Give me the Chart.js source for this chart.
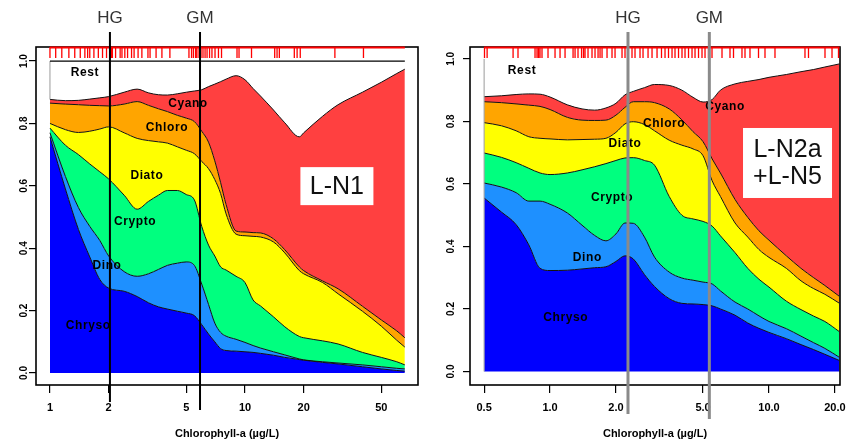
<!DOCTYPE html>
<html>
<head>
<meta charset="utf-8">
<script src="https://cdn.jsdelivr.net/npm/chart.js@4.4.1/dist/chart.umd.min.js"></script>
<style>
  html, body { margin: 0; padding: 0; background: #fff; }
  #wrap { position: relative; width: 849px; height: 444px; }
  #c1 { position: absolute; left: 0; top: 0; }
  #c2 { position: absolute; left: 425px; top: 0; }
</style>
</head>
<body>
<div id="wrap">
  <canvas id="c1" width="425" height="444"></canvas>
  <canvas id="c2" width="424" height="444"></canvas>
</div>
<script>
// ---------- Data: cumulative share (top edge of each group) ----------
const groupNames = ['Chryso', 'Dino', 'Crypto', 'Diato', 'Chloro', 'Cyano'];
const groupColors = ['#0000ff', '#1e90ff', '#00ff7f', '#ffff00', '#ffa500', '#ff4040'];
const labelNames = ['Rest', 'Cyano', 'Chloro', 'Diato', 'Crypto', 'Dino', 'Chryso'];
const markerNames = ['HG', 'GM'];
const yTicks = [0, 0.2, 0.4, 0.6, 0.8, 1.0];

// Panel L-N1
const chlA = [1, 1.2, 1.4, 1.6, 1.8, 2, 2.4, 2.8, 3.2, 3.6, 4, 4.5, 5, 5.5, 6, 6.5, 7, 7.5, 8, 9, 10, 11, 12, 14, 16, 19, 20, 25, 30, 40, 50, 60, 66];
const chrysoA = [0.757, 0.59, 0.46, 0.372, 0.30, 0.272, 0.262, 0.245, 0.225, 0.212, 0.205, 0.198, 0.192, 0.184, 0.155, 0.125, 0.10, 0.078, 0.072, 0.07, 0.068, 0.066, 0.063, 0.057, 0.05, 0.043, 0.041, 0.034, 0.029, 0.02, 0.013, 0.008, 0.006];
const dinoA = [0.77, 0.63, 0.53, 0.47, 0.425, 0.375, 0.325, 0.31, 0.318, 0.332, 0.345, 0.352, 0.356, 0.345, 0.285, 0.22, 0.16, 0.13, 0.118, 0.108, 0.098, 0.088, 0.08, 0.068, 0.058, 0.045, 0.042, 0.036, 0.032, 0.026, 0.02, 0.015, 0.013];
const cryptoA = [0.785, 0.73, 0.70, 0.67, 0.645, 0.622, 0.57, 0.525, 0.55, 0.57, 0.585, 0.585, 0.572, 0.555, 0.47, 0.41, 0.375, 0.34, 0.33, 0.31, 0.29, 0.234, 0.215, 0.18, 0.148, 0.117, 0.113, 0.103, 0.093, 0.066, 0.05, 0.036, 0.026];
const diatoA = [0.80, 0.78, 0.771, 0.775, 0.782, 0.789, 0.77, 0.752, 0.745, 0.741, 0.737, 0.725, 0.714, 0.703, 0.678, 0.655, 0.62, 0.575, 0.51, 0.445, 0.44, 0.438, 0.436, 0.42, 0.385, 0.328, 0.318, 0.29, 0.254, 0.198, 0.15, 0.105, 0.083];
const chloroA = [0.865, 0.862, 0.86, 0.858, 0.857, 0.856, 0.862, 0.87, 0.858, 0.847, 0.838, 0.826, 0.817, 0.806, 0.775, 0.74, 0.68, 0.61, 0.54, 0.455, 0.452, 0.45, 0.449, 0.43, 0.395, 0.34, 0.328, 0.295, 0.27, 0.214, 0.17, 0.135, 0.113];
const cyanoA = [0.877, 0.873, 0.874, 0.878, 0.882, 0.886, 0.90, 0.91, 0.898, 0.892, 0.891, 0.895, 0.90, 0.904, 0.908, 0.918, 0.926, 0.934, 0.942, 0.953, 0.94, 0.912, 0.888, 0.843, 0.802, 0.757, 0.77, 0.823, 0.86, 0.90, 0.932, 0.96, 0.974];
const rugA = [1.00, 1.07, 1.15, 1.25, 1.34, 1.43, 1.51, 1.56, 1.60, 1.68, 1.77, 1.86, 1.95, 2.03, 2.06, 2.09, 2.17, 2.29, 2.34, 2.42, 2.50, 2.62, 2.70, 2.83, 2.96, 3.18, 3.26, 3.50, 3.75, 4.12, 5.16, 5.32, 5.44, 5.58, 5.67, 5.81, 5.95, 6.09, 6.24, 6.39, 6.58, 6.77, 7.02, 7.31, 7.58, 9.10, 9.32, 10.8, 14.2, 14.6, 15.0, 17.9, 18.5, 19.2, 28.9, 40.5];
const markersA = [2.03, 5.88];
const ticksA = [1, 2, 5, 10, 20, 50];
const tickTextA = ['1', '2', '5', '10', '20', '50'];
const labelPosA = [[1.51, 0.962], [5.10, 0.862], [3.98, 0.785], [3.14, 0.631], [2.73, 0.484], [1.96, 0.343], [1.57, 0.151]];

// Panel L-N2a + L-N5
const chlB = [0.5, 0.6, 0.7, 0.8, 0.9, 1.0, 1.2, 1.4, 1.6, 1.8, 2.0, 2.2, 2.4, 2.7, 3, 3.5, 4, 4.5, 5, 5.5, 6, 7, 8, 9, 10, 12, 14, 16, 18, 21];
const chrysoB = [0.555, 0.51, 0.47, 0.405, 0.33, 0.323, 0.324, 0.328, 0.332, 0.335, 0.352, 0.37, 0.36, 0.31, 0.272, 0.233, 0.218, 0.216, 0.214, 0.21, 0.2, 0.18, 0.155, 0.138, 0.125, 0.105, 0.086, 0.07, 0.055, 0.035];
const dinoB = [0.603, 0.59, 0.572, 0.545, 0.545, 0.535, 0.507, 0.468, 0.435, 0.418, 0.44, 0.475, 0.474, 0.43, 0.366, 0.318, 0.299, 0.292, 0.286, 0.28, 0.258, 0.222, 0.2, 0.178, 0.16, 0.137, 0.113, 0.092, 0.074, 0.045];
const cryptoB = [0.699, 0.685, 0.668, 0.65, 0.635, 0.63, 0.635, 0.645, 0.655, 0.665, 0.675, 0.683, 0.684, 0.675, 0.66, 0.56, 0.5, 0.488, 0.48, 0.465, 0.434, 0.38, 0.33, 0.295, 0.27, 0.225, 0.198, 0.177, 0.16, 0.127];
const diatoB = [0.796, 0.786, 0.77, 0.751, 0.746, 0.744, 0.741, 0.742, 0.743, 0.746, 0.765, 0.792, 0.799, 0.79, 0.77, 0.74, 0.724, 0.712, 0.69, 0.61, 0.56, 0.475, 0.43, 0.39, 0.365, 0.33, 0.29, 0.265, 0.247, 0.218];
const chloroB = [0.863, 0.86, 0.856, 0.852, 0.848, 0.838, 0.813, 0.804, 0.803, 0.804, 0.82, 0.845, 0.863, 0.863, 0.86, 0.84, 0.805, 0.767, 0.735, 0.68, 0.635, 0.55, 0.493, 0.45, 0.42, 0.37, 0.33, 0.3, 0.275, 0.24];
const cyanoB = [0.879, 0.882, 0.886, 0.888, 0.887, 0.878, 0.853, 0.84, 0.836, 0.843, 0.858, 0.885, 0.896, 0.908, 0.918, 0.915, 0.90, 0.877, 0.862, 0.87, 0.90, 0.92, 0.928, 0.934, 0.941, 0.95, 0.959, 0.966, 0.974, 0.984];
const rugB = [0.502, 0.516, 0.678, 0.714, 0.854, 0.872, 0.886, 0.900, 0.919, 0.979, 1.054, 1.111, 1.171, 1.274, 1.301, 1.342, 1.393, 1.422, 1.445, 1.491, 1.555, 1.605, 1.657, 1.692, 1.728, 1.821, 1.919, 1.981, 2.132, 2.200, 2.271, 2.368, 2.444, 2.576, 2.659, 2.803, 2.923, 3.081, 3.229, 3.351, 3.476, 3.607, 3.722, 3.862, 4.006, 4.135, 4.290, 4.451, 4.594, 4.766, 4.944, 5.103, 5.293, 5.492, 6.101, 6.636, 6.885, 7.527, 7.770, 8.188, 8.956, 9.588, 10.65, 14.60, 15.15, 18.02, 19.40, 20.77];
const markersB = [2.27, 5.34];
const ticksB = [0.5, 1, 2, 5, 10, 20];
const tickTextB = ['0.5', '1.0', '2.0', '5.0', '10.0', '20.0'];
const labelPosB = [[0.745, 0.961], [6.30, 0.846], [3.32, 0.792], [2.20, 0.728], [1.92, 0.555], [1.48, 0.363], [1.18, 0.171]];

const FONT = '"Liberation Sans", Arial, sans-serif';

// ---------- Panel settings (layout / style) ----------
const panels = [
  {
    canvas: 'c1', chl: chlA, tops: [chrysoA, dinoA, cryptoA, diatoA, chloroA, cyanoA],
    rug: rugA, markers: markersA, ticks: ticksA, tickText: tickTextA, labelPos: labelPosA,
    boxText: ['L-N1'], boxAt: [29.6, 0.599], boxSize: [73, 38],
    xMin: 0.848, xMax: 77.1, yMin: -0.0385, yMax: 1.045,
    yAxisWidth: 36, padRight: 7, yLabelGap: 12,
    markerColor: '#000', markerWidth: 2, markerBottom: [402, 410],
    topLine: true
  },
  {
    canvas: 'c2', chl: chlB, tops: [chrysoB, dinoB, cryptoB, diatoB, chloroB, cyanoB],
    rug: rugB, markers: markersB, ticks: ticksB, tickText: tickTextB, labelPos: labelPosB,
    boxText: ['L-N2a', '+L-N5'], boxAt: [12.15, 0.667], boxSize: [89, 70],
    xMin: 0.431, xMax: 21.1, yMin: -0.0432, yMax: 1.038,
    yAxisWidth: 45, padRight: 9, yLabelGap: 19,
    markerColor: '#8a8a8a', markerWidth: 3, markerBottom: [414, 419],
    topLine: false
  }
];

// Draws the R-style extras: frame, rug, group names, panel tag, HG/GM lines, y labels
function makeDecor(p) {
  return {
    id: 'decor',
    afterDatasetsDraw(chart) {
      const { ctx, chartArea: a, scales: { x, y } } = chart;
      const first = p.chl[0];
      const last = p.chl[p.chl.length - 1];
      const xf = x.getPixelForValue(first);
      const xl = x.getPixelForValue(last);
      const cyano = p.tops[5];
      ctx.save();

      // outline of the "Rest" area
      ctx.lineWidth = 1;
      ctx.strokeStyle = '#9a9a9a';
      ctx.beginPath();
      if (p.topLine) {
        ctx.moveTo(xf, y.getPixelForValue(1));
        ctx.lineTo(xf, y.getPixelForValue(cyano[0]));
      } else {
        ctx.moveTo(xf, y.getPixelForValue(0));
        ctx.lineTo(xf, y.getPixelForValue(1));
        ctx.moveTo(xl, y.getPixelForValue(0));
        ctx.lineTo(xl, y.getPixelForValue(cyano[cyano.length - 1]));
      }
      ctx.stroke();
      if (p.topLine) {
        ctx.strokeStyle = '#000';
        ctx.lineWidth = 1.2;
        ctx.beginPath();
        ctx.moveTo(xf, y.getPixelForValue(1));
        ctx.lineTo(xl, y.getPixelForValue(1));
        ctx.stroke();
      }

      // frame
      ctx.strokeStyle = '#000';
      ctx.lineWidth = 1.6;
      ctx.strokeRect(a.left, a.top, a.width, a.height);

      // rug of samples along the top
      ctx.strokeStyle = '#ff0000';
      ctx.lineWidth = 2;
      ctx.beginPath();
      ctx.moveTo(xf, a.top + 0.5);
      ctx.lineTo(xl, a.top + 0.5);
      ctx.stroke();
      ctx.lineWidth = 1.3;
      ctx.beginPath();
      p.rug.forEach(v => {
        const px = x.getPixelForValue(v);
        ctx.moveTo(px, a.top);
        ctx.lineTo(px, a.top + 11);
      });
      ctx.stroke();

      // group names
      ctx.fillStyle = '#000';
      ctx.textAlign = 'center';
      ctx.textBaseline = 'middle';
      ctx.font = 'bold 12px ' + FONT;
      ctx.letterSpacing = '0.6px';
      labelNames.forEach((name, i) => {
        const [lx, ly] = p.labelPos[i];
        ctx.fillText(name, x.getPixelForValue(lx), y.getPixelForValue(ly));
      });
      ctx.letterSpacing = '0px';

      // panel tag
      const bx = x.getPixelForValue(p.boxAt[0]);
      const by = y.getPixelForValue(p.boxAt[1]);
      const [bw, bh] = p.boxSize;
      ctx.fillStyle = '#fff';
      ctx.fillRect(bx - bw / 2, by - bh / 2, bw, bh);
      ctx.fillStyle = '#111';
      ctx.font = '25px ' + FONT;
      const lineH = 27;
      p.boxText.forEach((t, i) => {
        const off = (i - (p.boxText.length - 1) / 2) * lineH;
        ctx.fillText(t, bx, by + off + 1);
      });

      // HG / GM reference lines
      ctx.strokeStyle = p.markerColor;
      ctx.lineWidth = p.markerWidth;
      p.markers.forEach((v, i) => {
        const px = x.getPixelForValue(v);
        ctx.beginPath();
        ctx.moveTo(px, 32);
        ctx.lineTo(px, p.markerBottom[i]);
        ctx.stroke();
        ctx.fillStyle = '#333';
        ctx.font = '17px ' + FONT;
        ctx.fillText(markerNames[i], px, 18);
      });

      // rotated y tick labels
      ctx.fillStyle = '#000';
      ctx.font = 'bold 10px ' + FONT;
      yTicks.forEach(v => {
        ctx.save();
        ctx.translate(a.left - p.yLabelGap, y.getPixelForValue(v));
        ctx.rotate(-Math.PI / 2);
        ctx.fillText(v.toFixed(1), 0, 0);
        ctx.restore();
      });

      ctx.restore();
    }
  };
}

function buildPanel(p) {
  const datasets = p.tops.map((tops, i) => ({
    label: groupNames[i],
    data: p.chl.map((c, j) => ({ x: c, y: tops[j] })),
    backgroundColor: groupColors[i],
    borderColor: '#111',
    borderWidth: 1,
    pointRadius: 0,
    fill: i === 0 ? 'origin' : '-1',
    cubicInterpolationMode: 'monotone'
  }));

  return new Chart(document.getElementById(p.canvas), {
    type: 'line',
    data: { datasets },
    options: {
      responsive: false,
      animation: false,
      events: [],
      layout: { padding: { top: 47, right: p.padRight, left: 0, bottom: 0 } },
      plugins: {
        legend: { display: false },
        tooltip: { enabled: false },
        filler: { drawTime: 'beforeDatasetsDraw' }
      },
      scales: {
        x: {
          type: 'logarithmic',
          min: p.xMin,
          max: p.xMax,
          afterBuildTicks: s => { s.ticks = p.ticks.map(v => ({ value: v })); },
          afterFit: s => {
            s.height = 59;
            s.paddingLeft = 0;
            s.paddingRight = 0;
          },
          ticks: {
            autoSkip: false,
            maxRotation: 0,
            minRotation: 0,
            padding: 8,
            color: '#000',
            font: { family: FONT, size: 11, weight: 'bold' },
            callback: (v, i) => p.tickText[i]
          },
          grid: { drawOnChartArea: false, drawTicks: true, tickLength: 8, color: '#000', lineWidth: 1.2 },
          border: { display: false },
          title: {
            display: true,
            text: 'Chlorophyll-a (µg/L)',
            color: '#000',
            font: { family: FONT, size: 11, weight: 'bold' },
            padding: { top: 0, bottom: 3 }
          }
        },
        y: {
          type: 'linear',
          min: p.yMin,
          max: p.yMax,
          afterBuildTicks: s => { s.ticks = yTicks.map(v => ({ value: v })); },
          afterFit: s => {
            s.width = p.yAxisWidth;
            s.paddingTop = 0;
            s.paddingBottom = 0;
          },
          ticks: { display: false },
          grid: { drawOnChartArea: false, drawTicks: true, tickLength: 7, color: '#000', lineWidth: 1.2 },
          border: { display: false }
        }
      }
    },
    plugins: [makeDecor(p)]
  });
}

panels.forEach(buildPanel);
</script>
</body>
</html>
